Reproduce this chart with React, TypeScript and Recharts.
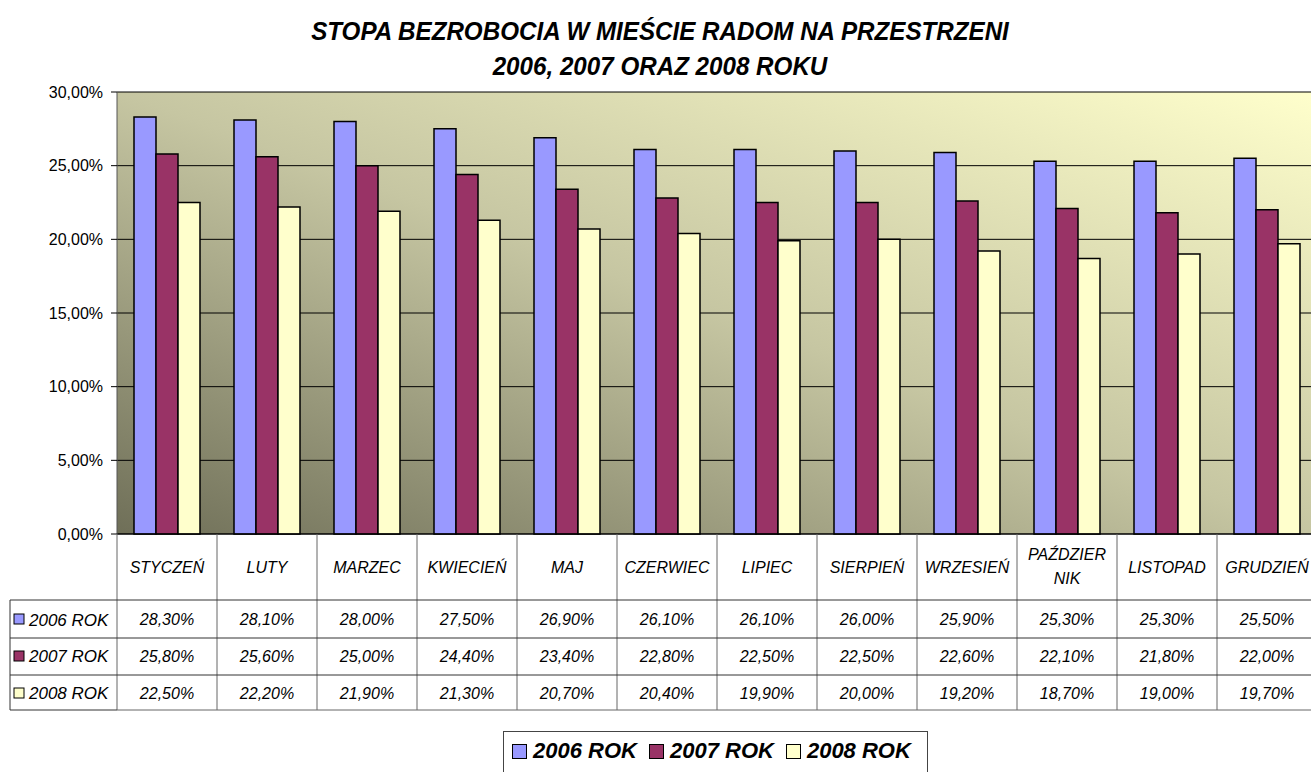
import * as React from 'react';
import { BarChart, Bar, XAxis, YAxis, CartesianGrid } from 'recharts';

const MONTHS = [
  'STYCZEŃ',
  'LUTY',
  'MARZEC',
  'KWIECIEŃ',
  'MAJ',
  'CZERWIEC',
  'LIPIEC',
  'SIERPIEŃ',
  'WRZESIEŃ',
  'PAŹDZIERNIK',
  'LISTOPAD',
  'GRUDZIEŃ',
];

const ROK_2006 = [28.3, 28.1, 28.0, 27.5, 26.9, 26.1, 26.1, 26.0, 25.9, 25.3, 25.3, 25.5];
const ROK_2007 = [25.8, 25.6, 25.0, 24.4, 23.4, 22.8, 22.5, 22.5, 22.6, 22.1, 21.8, 22.0];
const ROK_2008 = [22.5, 22.2, 21.9, 21.3, 20.7, 20.4, 19.9, 20.0, 19.2, 18.7, 19.0, 19.7];

const Y_TICKS = [0, 5, 10, 15, 20, 25, 30];

const SERIES = [
  { key: 'r2006', name: '2006 ROK', color: '#9999ff', values: ROK_2006 },
  { key: 'r2007', name: '2007 ROK', color: '#993366', values: ROK_2007 },
  { key: 'r2008', name: '2008 ROK', color: '#ffffcc', values: ROK_2008 },
];

const data = MONTHS.map((m, i) => {
  const row: Record<string, string | number> = { month: m };
  SERIES.forEach((s) => {
    row[s.key] = s.values[i];
  });
  return row;
});

const FONT = '"Liberation Sans", Arial, sans-serif';
const fmt = (v: number) => v.toFixed(2).replace('.', ',') + '%';

// table geometry (relative to the x axis line)
const CELL_W = 100;
const ROW_TOPS = [66, 104, 141];
const ROW_BOTTOM = 176;
const LEFT_EDGE = 10;

function TableTick(props: any) {
  const { x, payload } = props;
  const idx = payload.index;
  const y0 = 534;
  const label: string = payload.value;
  const lines = label === 'PAŹDZIERNIK' ? ['PAŹDZIER', 'NIK'] : [label];
  const left = x - CELL_W / 2;
  const right = x + CELL_W / 2;
  const grid = '#666';
  return (
    <g fontFamily={FONT} fontStyle="italic" fontSize={16} fill="#000">
      {idx === 0 && (
        <g>
          <line x1={left} x2={left} y1={y0} y2={y0 + ROW_BOTTOM} stroke={grid} />
          <line x1={LEFT_EDGE} x2={LEFT_EDGE} y1={y0 + ROW_TOPS[0]} y2={y0 + ROW_BOTTOM} stroke="#333" />
          {SERIES.map((s, r) => (
            <g key={s.key}>
              <line x1={LEFT_EDGE} x2={left} y1={y0 + ROW_TOPS[r]} y2={y0 + ROW_TOPS[r]} stroke="#333" />
              <rect
                x={LEFT_EDGE + 4}
                y={y0 + ROW_TOPS[r] + (r === 0 ? 14 : 13)}
                width={10}
                height={10}
                fill={s.color}
                stroke="#000"
              />
              <text x={LEFT_EDGE + 19} y={y0 + ROW_TOPS[r] + (r === 0 ? 26 : 24)} fontSize={17}>
                {s.name}
              </text>
            </g>
          ))}
          <line x1={LEFT_EDGE} x2={left} y1={y0 + ROW_BOTTOM} y2={y0 + ROW_BOTTOM} stroke="#333" />
        </g>
      )}
      <line x1={right} x2={right} y1={y0} y2={y0 + ROW_BOTTOM} stroke={grid} />
      {lines.map((t, k) => (
        <text
          key={t}
          x={x}
          y={y0 + (lines.length === 1 ? 39 : 26 + k * 24)}
          textAnchor="middle"
        >
          {t}
        </text>
      ))}
      {SERIES.map((s, r) => (
        <g key={s.key}>
          <line x1={left} x2={right} y1={y0 + ROW_TOPS[r]} y2={y0 + ROW_TOPS[r]} stroke="#333" />
          <text x={x} y={y0 + ROW_TOPS[r] + (r === 0 ? 25 : 24)} textAnchor="middle">
            {fmt(s.values[idx])}
          </text>
        </g>
      ))}
      <line x1={left} x2={right} y1={y0 + ROW_BOTTOM} y2={y0 + ROW_BOTTOM} stroke={grid} />
    </g>
  );
}

export default function App() {
  return (
    <div
      style={{
        position: 'absolute',
        left: 0,
        top: 0,
        width: 1311,
        height: 772,
        overflow: 'hidden',
        background: '#fff',
        fontFamily: FONT,
      }}
    >
      <div
        style={{
          position: 'absolute',
          left: 0,
          width: 1320,
          top: 14,
          textAlign: 'center',
          fontWeight: 'bold',
          fontStyle: 'italic',
          fontSize: 26,
          lineHeight: '35px',
          transform: 'scaleX(0.93)',
          transformOrigin: '660px 0',
        }}
      >
        STOPA BEZROBOCIA W MIEŚCIE RADOM NA PRZESTRZENI
        <br />
        2006, 2007 ORAZ 2008 ROKU
      </div>

      <BarChart
        width={1330}
        height={772}
        data={data}
        margin={{ top: 92, right: 13, left: 0, bottom: 0 }}
        barCategoryGap="17%"
        barGap={0}
        style={{ position: 'absolute', left: 0, top: 0 }}
      >
        <defs>
          <linearGradient id="plotBg" x1="0" y1="1" x2="1" y2="0">
            <stop offset="0%" stopColor="#6f6f58" />
            <stop offset="50%" stopColor="#c6c6a2" />
            <stop offset="100%" stopColor="#ffffcc" />
          </linearGradient>
        </defs>
        <CartesianGrid vertical={false} stroke="#000" fill="url(#plotBg)" fillOpacity={1} />
        <XAxis
          dataKey="month"
          height={238}
          axisLine={{ stroke: '#000' }}
          tickLine={false}
          tickSize={0}
          interval={0}
          tick={<TableTick />}
        />
        <YAxis
          width={117}
          domain={[0, 30]}
          ticks={Y_TICKS}
          interval={0}
          tickFormatter={fmt}
          axisLine={{ stroke: '#555' }}
          tickLine={{ stroke: '#000' }}
          tickSize={6}
          tickMargin={8}
          tick={{ fontSize: 16, fill: '#000', fontFamily: FONT }}
        />
        {SERIES.map((s) => (
          <Bar
            key={s.key}
            dataKey={s.key}
            name={s.name}
            fill={s.color}
            stroke="#000"
            strokeWidth={1.5}
            isAnimationActive={false}
          />
        ))}
      </BarChart>

      <div
        style={{
          position: 'absolute',
          left: 503,
          top: 731,
          width: 425,
          height: 60,
          border: '1px solid #444',
          display: 'flex',
          alignItems: 'flex-start',
          paddingTop: 6,
          paddingLeft: 8,
          boxSizing: 'border-box',
          fontWeight: 'bold',
          fontStyle: 'italic',
          fontSize: 22,
          whiteSpace: 'nowrap',
        }}
      >
        {SERIES.map((s) => (
          <span
            key={s.key}
            style={{ display: 'flex', alignItems: 'center', marginRight: 12, flexShrink: 0 }}
          >
            <span
              style={{
                display: 'inline-block',
                width: 13,
                height: 13,
                background: s.color,
                border: '1px solid #000',
                marginRight: 6,
                flexShrink: 0,
              }}
            />
            {s.name}
          </span>
        ))}
      </div>
    </div>
  );
}
